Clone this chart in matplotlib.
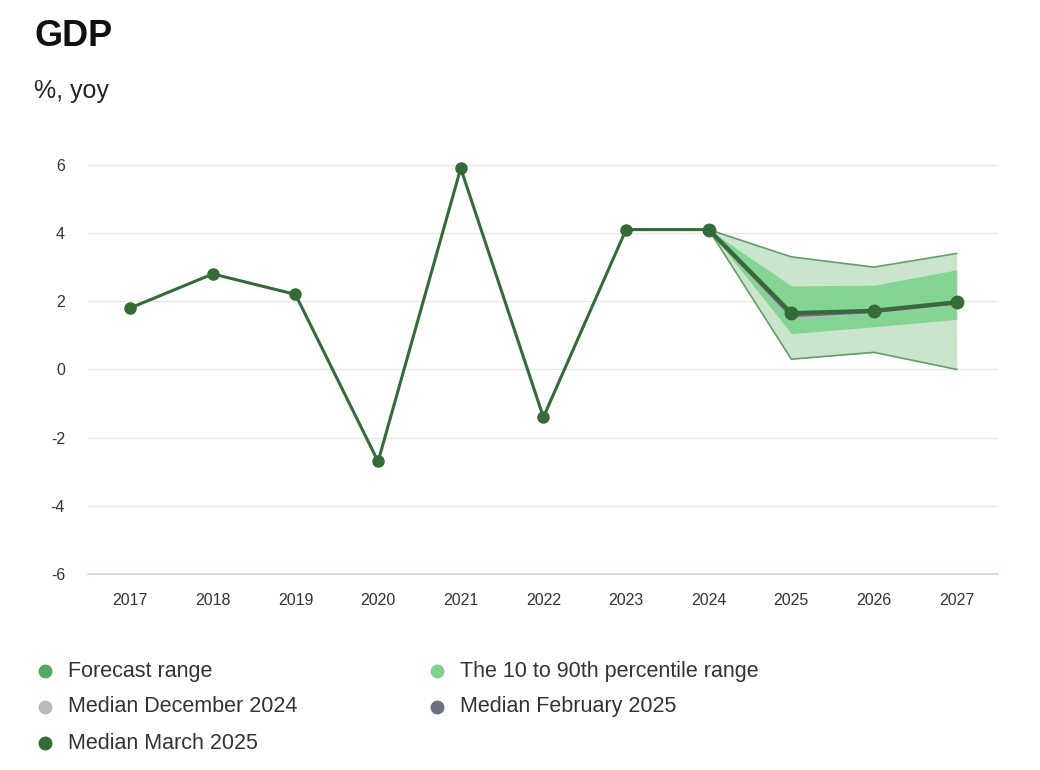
import matplotlib.pyplot as plt
from matplotlib.lines import Line2D

# ── data ─────────────────────────────────────────────────────────────────────
years = [2017, 2018, 2019, 2020, 2021, 2022, 2023, 2024, 2025, 2026, 2027]
gdp_actual = [1.8, 2.8, 2.2, -2.7, 5.9, -1.4, 4.1, 4.1]

fc_years = [2024, 2025, 2026, 2027]
median_mar25 = [4.1, 1.65, 1.72, 1.97]
median_feb25 = [4.1, 1.58, 1.70, 1.95]
median_dec24 = [4.1, 1.52, 1.68, 1.92]
range_low = [4.1, 0.3, 0.5, 0.0]
range_high = [4.1, 3.3, 3.0, 3.4]
p10 = [4.1, 1.05, 1.25, 1.47]
p90 = [4.1, 2.45, 2.47, 2.92]

yticks = [-6, -4, -2, 0, 2, 4, 6]

legend_labels = ["Forecast range", "The 10 to 90th percentile range",
                 "Median December 2024", "Median February 2025",
                 "Median March 2025"]

# ── style ────────────────────────────────────────────────────────────────────
plt.rcParams["font.family"] = ["Liberation Sans", "DejaVu Sans"]

C_MAIN = "#356b37"
C_RANGE = "#cbe5cd"
C_RANGE_EDGE = "#5f9f66"
C_PCT = "#84d494"
C_DEC = "#b6bac2"
C_FEB = "#6c7080"
legend_colors = ["#55a865", "#7fd18f", C_DEC, C_FEB, C_MAIN]

fig = plt.figure(figsize=(10.4, 7.7), dpi=100)
ax = fig.add_axes([0.0846, 0.2545, 0.875, 0.5536])

fig.text(0.033, 0.953, "GDP", fontsize=26, fontweight="bold", color="#111111",
         va="center", ha="left")
fig.text(0.033, 0.882, "%, yoy", fontsize=18, color="#222222",
         va="center", ha="left")

# bands
ax.fill_between(fc_years, range_low, range_high, color=C_RANGE, lw=0, zorder=1)
ax.plot(fc_years, range_high, color=C_RANGE_EDGE, lw=1.2, zorder=2)
ax.plot(fc_years, range_low, color=C_RANGE_EDGE, lw=1.2, zorder=2)
ax.fill_between(fc_years, p10, p90, color=C_PCT, lw=0, zorder=2)

# older medians
ax.plot(fc_years, median_dec24, color=C_DEC, lw=2.5, zorder=3)
ax.plot(fc_years, median_feb25, color=C_FEB, lw=2.5, zorder=3)

# main series
ax.plot(years[:len(gdp_actual)], gdp_actual, color=C_MAIN, lw=2.2,
        marker="o", markersize=8, zorder=4)
ax.plot(fc_years, median_mar25, color=C_MAIN, lw=3, marker="o",
        markersize=9, zorder=4)

ax.set_xlim(2016.49, 2027.5)
ax.set_ylim(-6, 6.5)
ax.set_xticks(years)
ax.set_xticklabels([str(y) for y in years])
ax.set_yticks(yticks)
ax.set_yticklabels([str(t) for t in yticks])
ax.tick_params(axis="both", length=0, labelsize=11.5, labelcolor="#333333")
ax.tick_params(axis="x", pad=14)
ax.tick_params(axis="y", pad=16.5)

ax.grid(axis="y", color="#e6e6e6", lw=1)
ax.set_axisbelow(True)
for s in ["top", "right", "left"]:
    ax.spines[s].set_visible(False)
ax.spines["bottom"].set_color("#ccd6eb")
ax.spines["bottom"].set_linewidth(1.2)

# ── legend ───────────────────────────────────────────────────────────────────
leg_x = [0.043, 0.420]
leg_y = [0.128, 0.082, 0.035]
for i, (lab, col) in enumerate(zip(legend_labels, legend_colors)):
    cx = leg_x[i % 2]
    cy = leg_y[i // 2]
    fig.add_artist(Line2D([cx], [cy], marker="o", markersize=9, color=col,
                          linestyle="none", transform=fig.transFigure))
    fig.text(cx + 0.022, cy, lab, fontsize=15.5, color="#333333",
             va="center", ha="left")

plt.savefig("out.png", dpi=100)
